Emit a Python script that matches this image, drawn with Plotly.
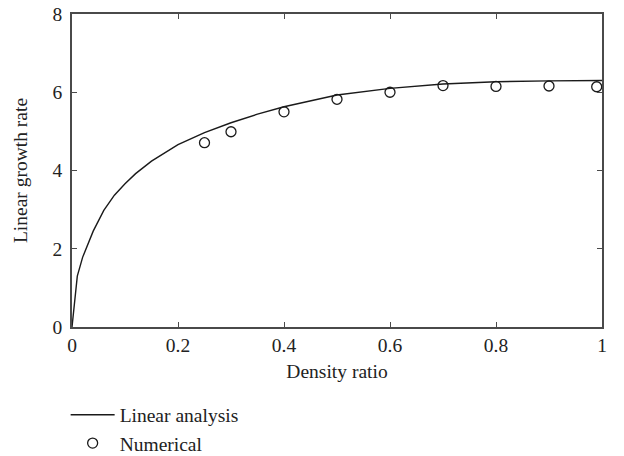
import plotly.graph_objects as go

# Linear analysis curve
linear_x = [0, 0.01, 0.02, 0.04, 0.06, 0.08, 0.10, 0.12, 0.15, 0.20, 0.25, 0.30,
            0.35, 0.40, 0.50, 0.60, 0.70, 0.80, 0.90, 1.00]
linear_y = [0, 1.30, 1.78, 2.45, 2.98, 3.37, 3.66, 3.92, 4.24, 4.66, 4.97, 5.22,
            5.44, 5.63, 5.93, 6.10, 6.21, 6.27, 6.29, 6.30]

# Numerical results
num_x = [0.25, 0.30, 0.40, 0.50, 0.60, 0.70, 0.80, 0.90, 0.99]
num_y = [4.71, 4.99, 5.50, 5.82, 6.00, 6.17, 6.15, 6.16, 6.14]

x_ticks = [0, 0.2, 0.4, 0.6, 0.8, 1]
x_tick_text = ["0", "0.2", "0.4", "0.6", "0.8", "1"]
y_ticks = [0, 2, 4, 6, 8]

FONT = "Liberation Serif"
FS = 19.5
AXIS_COLOR = "#4a4a4a"

fig = go.Figure()
fig.add_trace(go.Scatter(
    x=linear_x, y=linear_y, mode="lines", name="Linear analysis",
    line=dict(color="#1a1a1a", width=1.4),
))
fig.add_trace(go.Scatter(
    x=num_x, y=num_y, mode="markers", name="Numerical",
    marker=dict(symbol="circle-open", size=10, color="#1a1a1a",
                line=dict(width=1.3, color="#1a1a1a")),
    cliponaxis=False,
))

axis_common = dict(
    showgrid=False, zeroline=False, showline=True, linecolor=AXIS_COLOR,
    linewidth=1.6, mirror="ticks", ticks="inside", ticklen=5,
    tickcolor=AXIS_COLOR, tickwidth=1, automargin=False,
    tickfont=dict(family=FONT, size=FS, color="#222"),
)

fig.update_layout(
    width=624, height=456,
    margin=dict(l=72, r=22, t=14, b=129, autoexpand=False),
    paper_bgcolor="white", plot_bgcolor="white",
    font=dict(family=FONT, size=FS, color="#222"),
    xaxis=dict(range=[0, 1], tickvals=x_ticks, ticktext=x_tick_text,
               title=dict(text="Density ratio", font=dict(family=FONT, size=FS),
                          standoff=9),
               **axis_common),
    yaxis=dict(range=[0, 8], tickvals=y_ticks, ticklabelstandoff=4,
               title=dict(text="Linear growth rate", font=dict(family=FONT, size=FS),
                          standoff=20),
               **axis_common),
    legend=dict(x=-0.012, xanchor="left", y=-0.219, yanchor="top",
                bgcolor="rgba(0,0,0,0)", tracegroupgap=0,
                font=dict(family=FONT, size=FS, color="#222"),
                itemwidth=44),
    showlegend=True,
)

fig.write_html("out.html",
               config={"displayModeBar": False},
               post_script="document.body.style.margin='0';document.body.style.overflow='hidden';")
